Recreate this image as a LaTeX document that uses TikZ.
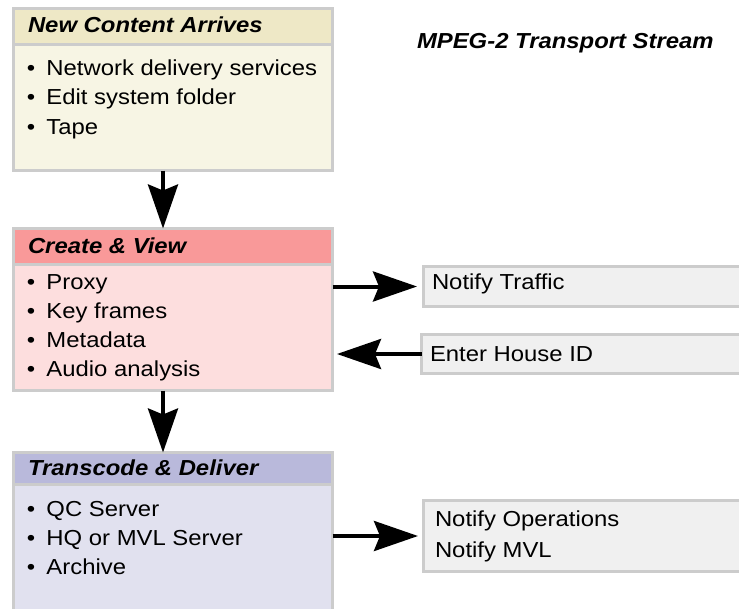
\documentclass[tikz,border=0pt]{standalone}
\usepackage{fontspec}
\setmainfont{Liberation Sans}[FakeStretch=1.1]
\usetikzlibrary{arrows.meta}
\definecolor{framegray}{RGB}{204,204,204}
\definecolor{hdA}{RGB}{238,232,198}
\definecolor{bdA}{RGB}{247,245,228}
\definecolor{hdB}{RGB}{249,153,153}
\definecolor{bdB}{RGB}{253,222,222}
\definecolor{hdC}{RGB}{185,185,219}
\definecolor{bdC}{RGB}{225,225,239}
\definecolor{sidefill}{RGB}{240,240,240}
\newcommand\itm{\makebox[19.5pt][l]{•}}
\begin{document}
\begin{tikzpicture}[x=1pt,y=-1pt,
  frame/.style={draw=framegray, line width=3pt, rectangle, inner sep=0pt, outer sep=0pt, anchor=north west},
  txt/.style={anchor=base west, inner sep=0pt, outer sep=0pt, font=\fontsize{21.7}{24}\selectfont},
  hd/.style={txt, font=\fontsize{21.7}{24}\selectfont\bfseries\itshape},
  arr/.style={line width=4pt, -{Stealth[length=44pt,width=30pt,inset=6pt]}}]
\useasboundingbox (0,0) rectangle (739,608);
\clip (0,0) rectangle (739,608);
% box 1
\node[frame, fill=bdA, minimum width=319pt, minimum height=162pt] (b1) at (13.5,8.5) {};
\node[frame, fill=hdA, minimum width=319pt, minimum height=35.5pt] (h1) at (13.5,8.5) {};
% box 2
\node[frame, fill=bdB, minimum width=319pt, minimum height=162pt] (b2) at (13.5,228.5) {};
\node[frame, fill=hdB, minimum width=319pt, minimum height=35.5pt] (h2) at (13.5,228.5) {};
% box 3
\node[frame, fill=bdC, minimum width=319pt, minimum height=180pt] (b3) at (13.5,452.5) {};
\node[frame, fill=hdC, minimum width=319pt, minimum height=31.5pt] (h3) at (13.5,452.5) {};
% side boxes
\node[frame, fill=sidefill, minimum width=340pt, minimum height=40pt] (nt) at (423.5,266.5) {};
\node[frame, fill=sidefill, minimum width=340pt, minimum height=39pt] (eh) at (421.5,334.5) {};
\node[frame, fill=sidefill, minimum width=340pt, minimum height=71pt] (no) at (423,500.5) {};
% texts
\node[hd] (t1) at (28,32.7) {New Content Arrives};
\node[txt] (t1a) at (27,75) {\itm Network delivery services};
\node[txt] (t1b) at (27,104.5) {\itm Edit system folder};
\node[txt] (t1c) at (27,134) {\itm Tape};
\node[hd] (t2) at (28,253) {Create \& View};
\node[txt] (t2a) at (27,289.5) {\itm Proxy};
\node[txt] (t2b) at (27,318.5) {\itm Key frames};
\node[txt] (t2c) at (27,347.7) {\itm Metadata};
\node[txt] (t2d) at (27,376.7) {\itm Audio analysis};
\node[hd] (t3) at (28,475) {Transcode \& Deliver};
\node[txt] (t3a) at (27,516) {\itm QC Server};
\node[txt] (t3b) at (27,545.3) {\itm HQ or MVL Server};
\node[txt] (t3c) at (27,574) {\itm Archive};
\node[txt] (tnt) at (432,289.7) {Notify Traffic};
\node[txt] (teh) at (430,361.7) {Enter House ID};
\node[txt] (tno1) at (435,526.7) {Notify Operations};
\node[txt] (tno2) at (435,557) {Notify MVL};
\node[hd] (mpeg) at (417,48) {MPEG-2 Transport Stream};
% arrows
\draw[arr] ([xshift=-10pt]b1.south) -- ([xshift=-10pt]b2.north);
\draw[arr] ([xshift=-10pt]b2.south) -- ([xshift=-10pt]h3.north);
\draw[arr] (b2.east |- nt.west) -- ([xshift=-6.5pt]nt.west);
\draw[arr, shorten >=4.5pt] (eh.west) -- (b2.east |- eh.west);
\draw[arr] (b3.east |- no.west) -- ([xshift=-5pt]no.west);
\end{tikzpicture}
\end{document}
